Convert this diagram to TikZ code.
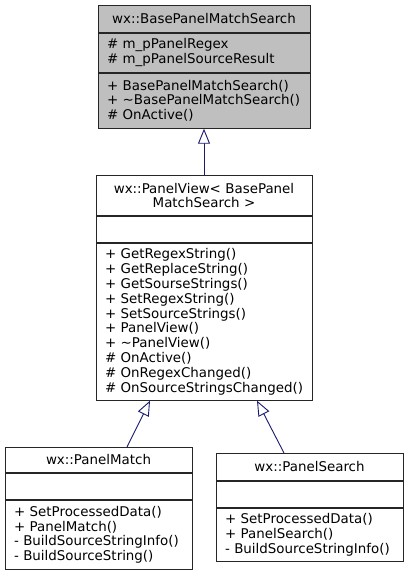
\documentclass[tikz,border=0pt]{standalone}
\usepackage{fontspec}
\setmainfont{DejaVu Sans}
\usetikzlibrary{arrows.meta}
\definecolor{edgeblue}{HTML}{191970}
\definecolor{basegray}{HTML}{BFBFBF}
\tikzset{
  compart/.style={draw=black!85, line width=0.9pt, anchor=north, inner xsep=9pt, inner ysep=0pt,
    font=\fontsize{13.4}{14.8}\selectfont},
  title/.style={compart, align=center},
  members/.style={compart, align=left},
  inherit/.style={draw=edgeblue, line width=0.9pt, -{Triangle[open, length=15pt, width=12pt, fill=white]}}
}
\begin{document}
\begin{tikzpicture}[x=1pt, y=-1pt]
  \useasboundingbox (0,0) rectangle (408,573);
  % base class
  \node[title, fill=basegray, text width=194pt, minimum height=27pt] (bt) at (204,5) {wx::BasePanelMatchSearch};
  \node[members, fill=basegray, text width=194pt, minimum height=39pt] (ba) at (bt.south) {\# m\_pPanelRegex\\\# m\_pPanelSourceResult};
  \node[members, fill=basegray, text width=194pt, minimum height=55pt] (bm) at (ba.south) {+ BasePanelMatchSearch()\\+ \textasciitilde BasePanelMatchSearch()\\\# OnActive()};
  % template view
  \node[title, text width=198pt, minimum height=40pt] (pvt) at (204,175) {wx::PanelView< BasePanel\\MatchSearch >};
  \node[members, text width=198pt, minimum height=26pt] (pva) at (pvt.south) {};
  \node[members, text width=198pt, minimum height=157pt] (pvm) at (pva.south) {+ GetRegexString()\\+ GetReplaceString()\\+ GetSourseStrings()\\+ SetRegexString()\\+ SetSourceStrings()\\+ PanelView()\\+ \textasciitilde PanelView()\\\# OnActive()\\\# OnRegexChanged()\\\# OnSourceStringsChanged()};
  % match
  \node[title, text width=169pt, minimum height=25pt] (pmt) at (98.5,447) {wx::PanelMatch};
  \node[members, text width=169pt, minimum height=26pt] (pma) at (pmt.south) {};
  \node[members, text width=169pt, minimum height=69pt] (pmm) at (pma.south) {+ SetProcessedData()\\+ PanelMatch()\\- BuildSourceStringInfo()\\- BuildSourceString()};
  % search
  \node[title, text width=169pt, minimum height=27pt] (pst) at (309.5,453) {wx::PanelSearch};
  \node[members, text width=169pt, minimum height=26pt] (psa) at (pst.south) {};
  \node[members, text width=169pt, minimum height=53pt] (psm) at (psa.south) {+ SetProcessedData()\\+ PanelSearch()\\- BuildSourceStringInfo()};
  % inheritance
  \draw[inherit] (pvt.north) -- (bm.south);
  \draw[inherit] ([xshift=28.5pt]pmt.north) -- ([xshift=-54pt]pvm.south);
  \draw[inherit] ([xshift=-25.5pt]pst.north) -- ([xshift=53pt]pvm.south);
\end{tikzpicture}
\end{document}
